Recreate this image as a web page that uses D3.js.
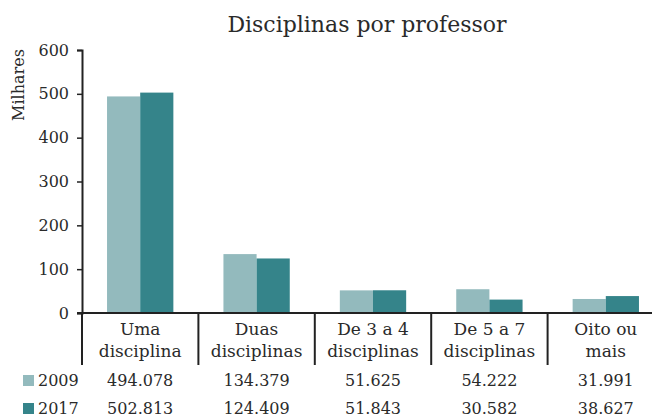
<!DOCTYPE html>
<html>
<head>
<meta charset="utf-8">
<script src="https://cdn.jsdelivr.net/npm/d3@7"></script>
<style>
  body { margin: 0; background: #fff; }
  text { font-family: "DejaVu Serif", "Liberation Serif", serif; fill: #2a2a2a; }
</style>
</head>
<body>
<script>
// dados
let categorias = [["Uma", "disciplina"], ["Duas", "disciplinas"], ["De 3 a 4", "disciplinas"], ["De 5 a 7", "disciplinas"], ["Oito ou", "mais"]]
let anos = ["2009", "2017"]
let valores2009 = [494.078, 134.379, 51.625, 54.222, 31.991]
let valores2017 = [502.813, 124.409, 51.843, 30.582, 38.627]
let ticksY = [0, 100, 200, 300, 400, 500, 600]
let cores = ["#93babd", "#35848a"]

let width = 652, height = 418
let svg = d3.select("body").append("svg")
    .attr("width", width)
    .attr("height", height)

// escalas
let x = d3.scaleBand()
    .domain(d3.range(categorias.length))
    .range([82, 664])
    .paddingInner(0)
let xAno = d3.scaleBand()
    .domain(anos)
    .range([0, x.bandwidth()])
    .paddingOuter(0.755)
    .paddingInner(0)
let y = d3.scaleLinear()
    .domain([0, 600])
    .range([313, 50])

// titulo
svg.append("text")
    .attr("x", 367).attr("y", 32)
    .attr("text-anchor", "middle")
    .style("font-size", "22px")
    .text("Disciplinas por professor")

svg.append("text")
    .attr("transform", "translate(24,85) rotate(-90)")
    .attr("text-anchor", "middle")
    .style("font-size", "16px")
    .text("Milhares")

// barras
let series = [valores2009, valores2017]
series.forEach((vals, s) => {
    svg.append("g").selectAll("rect")
        .data(vals)
        .enter()
        .append("rect")
        .attr("x", (d, i) => x(i) + xAno(anos[s]))
        .attr("width", xAno.bandwidth())
        .attr("y", d => y(d))
        .attr("height", d => y(0) - y(d))
        .attr("fill", cores[s])
})

// eixo y
let yAxis = d3.axisLeft(y).tickValues(ticksY).tickSize(5).tickPadding(8)
let gy = svg.append("g")
    .attr("transform", "translate(82,0)")
    .call(yAxis)
gy.select(".domain").attr("stroke", "#222").attr("stroke-width", 2)
gy.selectAll(".tick line").attr("stroke", "#222").attr("stroke-width", 1.5)
gy.selectAll(".tick text").style("font-size", "16px").style("font-family", "DejaVu Serif, serif").attr("fill", "#2a2a2a")

// eixo x e separadores
svg.append("line")
    .attr("x1", 77).attr("x2", width)
    .attr("y1", y(0)).attr("y2", y(0))
    .attr("stroke", "#222").attr("stroke-width", 2)

svg.append("g").selectAll("line")
    .data(d3.range(categorias.length + 1))
    .enter()
    .append("line")
    .attr("x1", i => i < categorias.length ? x(i) : x(i - 1) + x.bandwidth())
    .attr("x2", i => i < categorias.length ? x(i) : x(i - 1) + x.bandwidth())
    .attr("y1", y(0)).attr("y2", 365)
    .attr("stroke", "#222").attr("stroke-width", 2)

let rotulos = svg.append("g").selectAll("text")
    .data(categorias)
    .enter()
    .append("text")
    .attr("x", (d, i) => x(i) + x.bandwidth() / 2)
    .attr("y", 335)
    .attr("text-anchor", "middle")
    .style("font-size", "17px")
rotulos.append("tspan")
    .attr("x", (d, i) => x(i) + x.bandwidth() / 2)
    .text(d => d[0])
rotulos.append("tspan")
    .attr("x", (d, i) => x(i) + x.bandwidth() / 2)
    .attr("dy", 22)
    .text(d => d[1])

// tabela de dados
let fmt = v => v.toFixed(3)
let linhasY = [386, 414]
series.forEach((vals, s) => {
    svg.append("rect")
        .attr("x", 23).attr("y", linhasY[s] - 11)
        .attr("width", 11).attr("height", 11)
        .attr("fill", cores[s])
    svg.append("text")
        .attr("x", 38).attr("y", linhasY[s])
        .style("font-size", "16px")
        .text(anos[s])
    svg.append("g").selectAll("text")
        .data(vals)
        .enter()
        .append("text")
        .attr("x", (d, i) => x(i) + x.bandwidth() / 2)
        .attr("y", linhasY[s])
        .attr("text-anchor", "middle")
        .style("font-size", "16px")
        .text(d => fmt(d))
})
</script>
</body>
</html>
